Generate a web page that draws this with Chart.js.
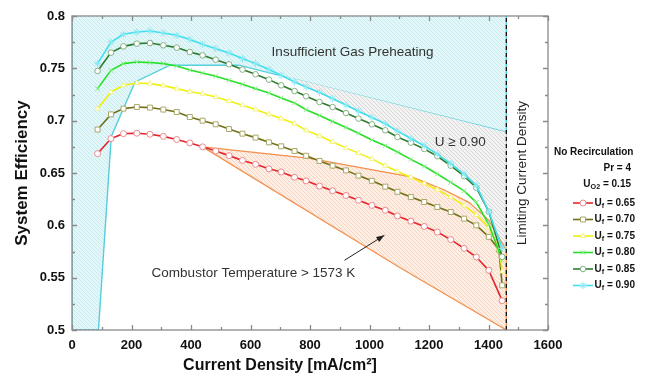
<!DOCTYPE html>
<html><head><meta charset="utf-8">
<script src="https://cdn.jsdelivr.net/npm/chart.js@4.4.1/dist/chart.umd.min.js"></script>
<style>html,body{margin:0;padding:0;background:#fff;}#wrap{width:650px;height:377px;}</style>
</head><body><div id="wrap"><canvas id="c" width="650" height="377"></canvas></div>
<script>
// ---- data ----
const currentDensity = [86,131,173,218,262,307,352,396,439,483,528,573,617,662,703,748,787,832,876,921,963,1008,1053,1094,1139,1184,1228,1273,1318,1359,1401,1435,1446];
const effUf065 = [0.6685,0.6829,0.6876,0.688,0.687,0.685,0.682,0.6787,0.675,0.671,0.6666,0.662,0.6583,0.654,0.651,0.646,0.6425,0.6375,0.633,0.6285,0.624,0.619,0.6144,0.609,0.604,0.599,0.5936,0.5864,0.578,0.5697,0.557,null,0.528];
const effUf070 = [0.6915,0.706,0.7115,0.713,0.7125,0.7106,0.7083,0.7035,0.700,0.6965,0.692,0.6876,0.6838,0.6793,0.6755,0.671,0.6665,0.6615,0.657,0.6525,0.6475,0.6425,0.637,0.632,0.627,0.6223,0.6175,0.6127,0.6064,0.600,0.589,0.5768,0.5427];
const effUf075 = [0.7115,0.7274,0.7338,0.736,0.7354,0.7335,0.7306,0.7277,0.7258,0.7226,0.7188,0.7147,0.7106,0.7061,0.702,0.6972,0.6907,0.6855,0.6797,0.674,0.669,0.6635,0.657,0.6515,0.646,0.640,0.634,0.627,0.619,0.610,0.598,0.578,0.556];
const effUf080 = [0.7306,0.7481,0.7545,0.756,0.7555,0.7545,0.7522,0.7484,0.7455,0.7424,0.7386,0.7347,0.7306,0.7264,0.7217,0.7169,0.7104,0.705,0.6992,0.6935,0.688,0.6816,0.676,0.670,0.663,0.6565,0.649,0.641,0.633,0.622,0.601,null,0.5666];
const effUf085 = [0.7475,0.765,0.771,0.7736,0.7742,0.772,0.7698,0.7656,0.7624,0.7583,0.7539,0.7488,0.7443,0.7392,0.7338,0.7283,0.7233,0.7178,0.713,0.7073,0.702,0.6965,0.6908,0.6844,0.679,0.673,0.666,0.657,0.647,0.636,0.613,null,0.570];
const effUf090 = [0.7545,0.7751,0.7825,0.7847,0.7857,0.7838,0.7816,0.7776,0.773,0.7688,0.7647,0.7593,0.7545,0.7488,0.7433,0.737,0.7322,0.727,0.721,0.715,0.709,0.703,0.697,0.690,0.683,0.676,0.668,0.659,0.649,0.638,0.613,null,0.578];
const fuelUtilLabels = ['0.65','0.70','0.75','0.80','0.85','0.90'];

// region outlines
const preheatX = [0, 0, 89, 132, 212, 330, 560, 1460, 1460];
const preheatY = [0.8, 0.5, 0.5, 0.685, 0.737, 0.753, 0.753, 0.689, 0.8];
const combustorUpperX = [439, 800, 1144, 1250, 1334, 1401, 1460];
const combustorUpperY = [0.675, 0.664, 0.646, 0.634, 0.622, 0.605, 0.576];
const combustorLowerX = [439, 1100, 1460];
const combustorLowerY = [0.675, 0.560, 0.500];
const highUtilStartX = 703;
const limitingCurrent = 1460;

const xTicks = [0,200,400,600,800,1000,1200,1400,1600];
const yTicks = [0.5,0.55,0.6,0.65,0.7,0.75,0.8];

// ---- helpers ----
const FONT = "'Liberation Sans', Arial, Helvetica, sans-serif";
const pts = (xs, ys) => xs.map((x,i)=>({x:x, y:ys[i]})).filter(p=>p.y!==null);
function hatch(bg, fg, s){
  const c=document.createElement('canvas'); c.width=s; c.height=s;
  const g=c.getContext('2d'); g.fillStyle=bg; g.fillRect(0,0,s,s);
  g.strokeStyle=fg; g.lineWidth=0.8; g.beginPath();
  for(let k=-1;k<=1;k++){ g.moveTo(k*s,0); g.lineTo(k*s+s,s); }
  g.stroke();
  return g.createPattern(c,'repeat');
}

const seriesStyle = [
  {line:'#e5242b', mark:'#ea8a90', style:'circle', r:3},
  {line:'#707016', mark:'#aaa86a', style:'rect', r:3.5},
  {line:'#f0f010', mark:'#f3f37a', style:'triangle', r:3},
  {line:'#28e028', mark:'#86ee86', style:'crossRot', r:3.2},
  {line:'#2c7c2c', mark:'#86b086', style:'circle', r:2.8},
  {line:'#3ee0f0', mark:'#8aeaf2', style:'star', r:3.6}
];
const seriesValues = [effUf065, effUf070, effUf075, effUf080, effUf085, effUf090];

const datasets = seriesValues.map((vals,i)=>({
  label:'Uf = '+fuelUtilLabels[i],
  data: pts(currentDensity, vals),
  borderColor: seriesStyle[i].line, borderWidth: 1.6,
  pointStyle: seriesStyle[i].style, pointRadius: seriesStyle[i].r,
  pointBorderColor: seriesStyle[i].mark, pointBackgroundColor:'#ffffff', pointBorderWidth:1,
  tension:0, fill:false, order: 6-i
}));

const cyanPts = pts(currentDensity, effUf090);
const grayPoly = cyanPts.filter(p=>p.x>=highUtilStartX).concat([
  {x:limitingCurrent, y:combustorUpperY[combustorUpperY.length-1]},
  {x:limitingCurrent, y:preheatY[7]}
]);
const orangePoly = pts(combustorUpperX, combustorUpperY).concat(pts(combustorLowerX, combustorLowerY).reverse());

datasets.push({label:'preheat', data: pts(preheatX, preheatY), fill:'shape',
  backgroundColor: hatch('#e3f6f8','#bfe9ee',4), borderColor:'#55cfdc', borderWidth:1.4, pointRadius:0, tension:0, order:12});
datasets.push({label:'highU', data: grayPoly, fill:'shape',
  backgroundColor: hatch('#f3f3f3','#cfcfcf',4), borderColor:'rgba(170,170,170,0.8)', borderWidth:1, pointRadius:0, tension:0, order:11});
datasets.push({label:'combustor', data: orangePoly, fill:'shape',
  backgroundColor: hatch('#fdeee6','#f8cdb5',4), borderColor:'#f2914f', borderWidth:1.3, pointRadius:0, tension:0, order:10});
datasets.push({label:'limit', data:[{x:limitingCurrent,y:0.5},{x:limitingCurrent,y:0.8}],
  borderColor:'#111', borderWidth:1.3, borderDash:[4,3], pointRadius:0, fill:false, order:0});

function drawParts(ctx, parts, x, y, size, align){
  let w=0;
  parts.forEach(p=>{ ctx.font='bold '+(p.sub?size*0.72:size)+'px '+FONT; p.w=ctx.measureText(p.t).width; w+=p.w; });
  let cx = align==='right' ? x-w : x;
  ctx.textAlign='left'; ctx.textBaseline='middle';
  parts.forEach(p=>{ ctx.font='bold '+(p.sub?size*0.72:size)+'px '+FONT; ctx.fillText(p.t, cx, y+(p.sub?3:0)); cx+=p.w; });
}

const decor = {
  id:'decor',
  afterDatasetsDraw(chart){
    const {ctx, chartArea:a, scales:{x,y}} = chart;
    ctx.save();
    ctx.fillStyle='#333'; ctx.textBaseline='middle'; ctx.textAlign='center';
    ctx.font='13.5px '+FONT;
    ctx.fillText('Insufficient Gas Preheating', x.getPixelForValue(943), y.getPixelForValue(0.7656));
    ctx.fillText('U \u2265 0.90', x.getPixelForValue(1305), y.getPixelForValue(0.6796));
    ctx.fillText('Combustor Temperature > 1573 K', x.getPixelForValue(610), y.getPixelForValue(0.5544));
    const x0=x.getPixelForValue(916), y0=y.getPixelForValue(0.5666), x1=x.getPixelForValue(1050), y1=y.getPixelForValue(0.5905);
    ctx.strokeStyle='#222'; ctx.fillStyle='#222'; ctx.lineWidth=1;
    ctx.beginPath(); ctx.moveTo(x0,y0); ctx.lineTo(x1,y1); ctx.stroke();
    const ang=Math.atan2(y1-y0,x1-x0);
    ctx.beginPath(); ctx.moveTo(x1,y1);
    ctx.lineTo(x1-8*Math.cos(ang)+3*Math.sin(ang), y1-8*Math.sin(ang)-3*Math.cos(ang));
    ctx.lineTo(x1-8*Math.cos(ang)-3*Math.sin(ang), y1-8*Math.sin(ang)+3*Math.cos(ang));
    ctx.closePath(); ctx.fill();
    ctx.save(); ctx.translate(522, (a.top+a.bottom)/2); ctx.rotate(-Math.PI/2);
    ctx.fillStyle='#222'; ctx.font='13.5px '+FONT; ctx.textAlign='center'; ctx.textBaseline='middle';
    ctx.fillText('Limiting Current Density', 0, 0); ctx.restore();
    ctx.strokeStyle='#8a8a8a'; ctx.lineWidth=1.3;
    ctx.strokeRect(a.left, a.top, a.right-a.left, a.bottom-a.top);
    ctx.beginPath();
    for(let v=0; v<=1600; v+=100){
      const px=Math.round(x.getPixelForValue(v))+0.5, len=(v%200===0)?5:3;
      ctx.moveTo(px,a.bottom); ctx.lineTo(px,a.bottom-len);
      ctx.moveTo(px,a.top); ctx.lineTo(px,a.top+len);
    }
    for(let k=0;k<=12;k++){
      const v=0.5+k*0.025, py=Math.round(y.getPixelForValue(v))+0.5, len=(k%2===0)?5:3;
      ctx.moveTo(a.left,py); ctx.lineTo(a.left+len,py);
      ctx.moveTo(a.right,py); ctx.lineTo(a.right-len,py);
    }
    ctx.stroke();
    ctx.restore();
  },
  afterDraw(chart){
    const {ctx} = chart;
    ctx.save();
    ctx.fillStyle='#111';
    ctx.font='bold 16px '+FONT; ctx.textAlign='center'; ctx.textBaseline='middle';
    ctx.fillText('Current Density [mA/cm\u00B2]', 280, 366);
    ctx.font='bold 17px '+FONT;
    ctx.save(); ctx.translate(22, 173); ctx.rotate(-Math.PI/2);
    ctx.fillText('System Efficiency', 0, 0); ctx.restore();
    ctx.font='bold 10px '+FONT; ctx.textAlign='left'; ctx.fillText('No Recirculation', 554, 152);
    ctx.textAlign='right'; ctx.fillText('Pr = 4', 631, 168);
    drawParts(ctx, [{t:'U'},{t:'O2',sub:true},{t:' = 0.15'}], 631, 184, 10, 'right');
    for(let i=0;i<6;i++){
      const yy=203+i*16.5, s=seriesStyle[i];
      ctx.strokeStyle=s.line; ctx.lineWidth=1.6; ctx.beginPath(); ctx.moveTo(573,yy); ctx.lineTo(593,yy); ctx.stroke();
      ctx.strokeStyle=s.mark; ctx.fillStyle='#fff'; ctx.lineWidth=1;
      if(Chart.helpers && Chart.helpers.drawPoint){
        Chart.helpers.drawPoint(ctx,{pointStyle:s.style, radius:s.r, rotation:0, borderWidth:1},583,yy);
      } else { ctx.beginPath(); ctx.arc(583,yy,s.r,0,Math.PI*2); ctx.fill(); ctx.stroke(); }
      ctx.fillStyle='#111';
      drawParts(ctx, [{t:'U'},{t:'f',sub:true},{t:' = '+fuelUtilLabels[i]}], 594.5, yy, 10, 'left');
    }
    ctx.restore();
  }
};

new Chart(document.getElementById('c'), {
  type:'line',
  data:{datasets},
  options:{
    responsive:false, animation:false,
    layout:{padding:{left:0,right:102,top:16,bottom:0}},
    plugins:{legend:{display:false}, tooltip:{enabled:false}},
    scales:{
      x:{type:'linear', min:0, max:1600, afterFit(s){s.height=47;},
        afterBuildTicks(s){ s.ticks = xTicks.map(v=>({value:v})); },
        ticks:{font:{family:FONT, size:13, weight:'bold'}, color:'#111', padding:8, maxRotation:0, autoSkip:false, callback:v=>String(v)},
        grid:{display:false, drawTicks:false}, border:{display:false}},
      y:{type:'linear', min:0.5, max:0.8, afterFit(s){s.width=72;},
        afterBuildTicks(s){ s.ticks = yTicks.map(v=>({value:v})); },
        ticks:{font:{family:FONT, size:13, weight:'bold'}, color:'#111', padding:7, callback:v=>String(Math.round(v*100)/100)},
        grid:{display:false, drawTicks:false}, border:{display:false}}
    }
  },
  plugins:[decor]
});
</script></body></html>
